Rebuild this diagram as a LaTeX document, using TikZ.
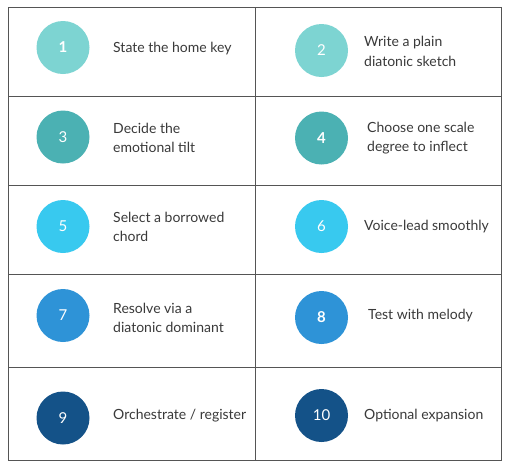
\documentclass[tikz,border=0pt]{standalone}
\usepackage{fontspec}
\setmainfont{Lato}
\definecolor{cA}{HTML}{7DD4D2}
\definecolor{cB}{HTML}{4BB1B3}
\definecolor{cC}{HTML}{38C9EF}
\definecolor{cD}{HTML}{2E93D7}
\definecolor{cE}{HTML}{145288}
\definecolor{gridc}{HTML}{555555}
\definecolor{txt}{HTML}{3A3A3A}
\tikzset{
  x=1pt, y=-1pt,
  gridline/.style={draw=gridc, line width=1pt},
  numc/.style={circle, minimum size=53pt, inner sep=0pt, text=white, font=\fontsize{15}{18}\selectfont},
  lbl/.style={anchor=west, inner sep=0pt, text=txt, align=left, font=\fontsize{14}{19.5}\selectfont},
}
\begin{document}
\begin{tikzpicture}
\useasboundingbox (0,0) rectangle (510,467);
\fill[white] (0,0) rectangle (510,467);
% grid
\draw[gridline] (8.5,7.5) rectangle (501.5,460.5);
\draw[gridline] (255.5,7.5) -- (255.5,460.5);
\foreach \yy in {96.5,185.5,274.5,367.5} \draw[gridline] (8.5,\yy) -- (501.5,\yy);
% circles
\node[numc, fill=cA] (n1) at (63,47.5) {\bfseries 1};
\node[numc, fill=cA] (n2) at (321.5,50.5) {2};
\node[numc, fill=cB] (n3) at (63,137) {3};
\node[numc, fill=cB] (n4) at (321.5,138) {\bfseries 4};
\node[numc, fill=cC] (n5) at (63,226.5) {5};
\node[numc, fill=cC] (n6) at (321.5,226.5) {6};
\node[numc, fill=cD] (n7) at (63,315.5) {7};
\node[numc, fill=cD] (n8) at (321.5,317.5) {\bfseries 8};
\node[numc, fill=cE] (n9) at (63,418) {9};
\node[numc, fill=cE] (n10) at (321.5,415.5) {10};
% labels
\node[lbl] (t1) at (113,48.3) {State the home key};
\node[lbl] (t2) at (364,51.2) {Write a plain\\diatonic sketch};
\node[lbl] (t3) at (113,137.7) {Decide the\\emotional tilt};
\node[lbl] (t4) at (367,138.3) {Choose one scale\\degree to inflect};
\node[lbl] (t5) at (113,226.7) {Select a borrowed\\chord};
\node[lbl] (t6) at (364,226.7) {Voice-lead smoothly};
\node[lbl] (t7) at (113,318) {Resolve via a\\diatonic dominant};
\node[lbl] (t8) at (368,315.7) {Test with melody};
\node[lbl] (t9) at (113,415.7) {Orchestrate / register};
\node[lbl] (t10) at (364,415.7) {Optional expansion};
\end{tikzpicture}
\end{document}
